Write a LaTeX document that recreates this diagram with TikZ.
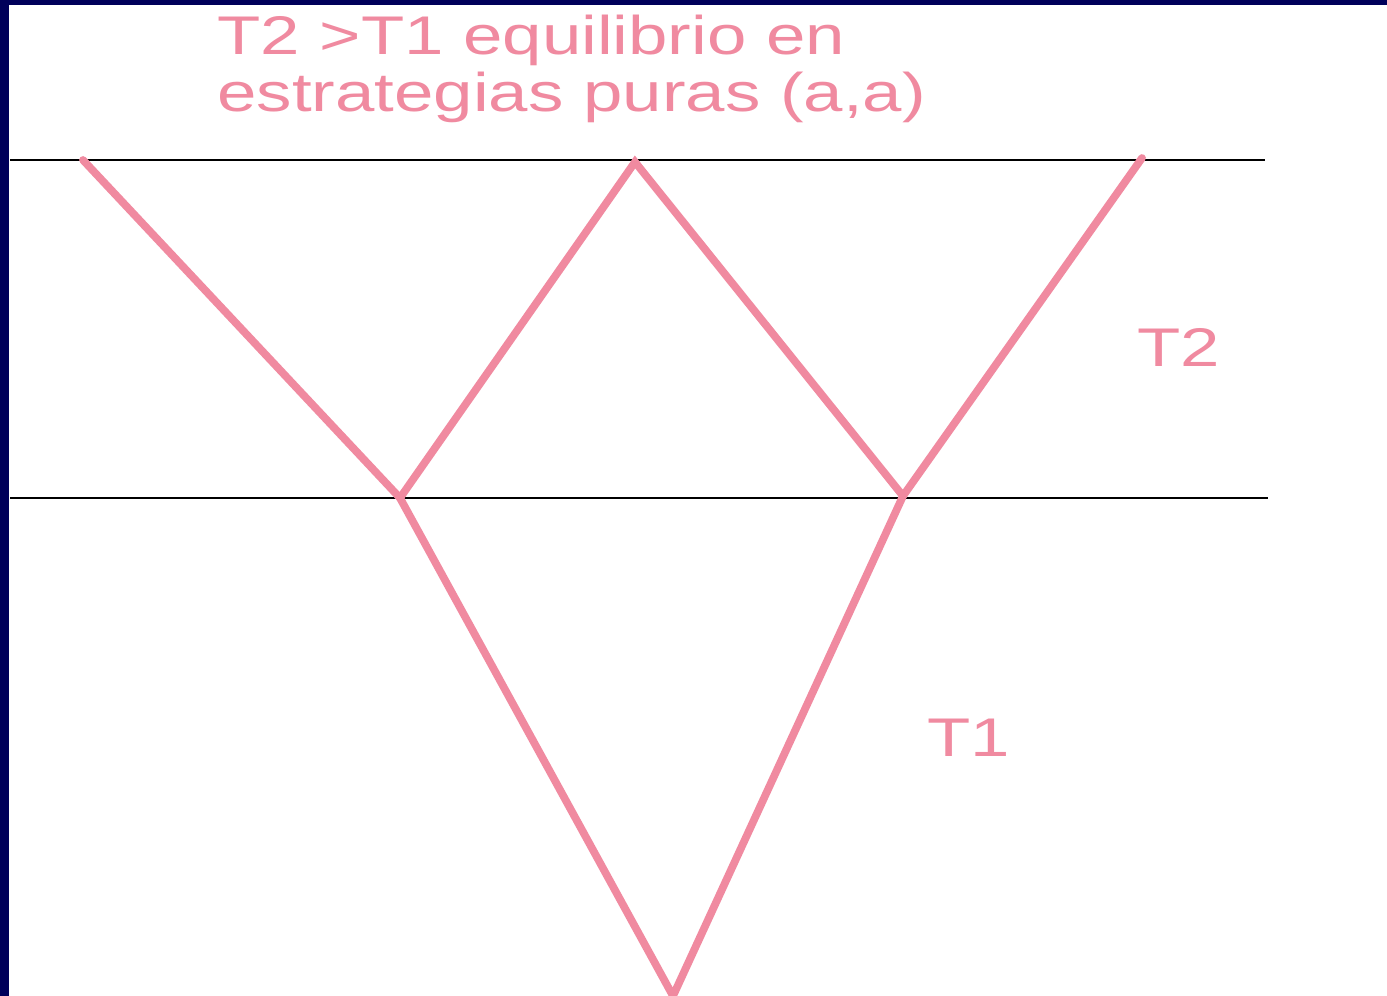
\documentclass[tikz,border=0pt]{standalone}
\usepackage{fontspec}
\setmainfont{Liberation Sans}
\usetikzlibrary{positioning}
\definecolor{navyframe}{RGB}{0,0,90}
\definecolor{rosa}{RGB}{240,138,160}
\begin{document}
\begin{tikzpicture}[
  x=0.02cm, y=-0.02cm,
  eje/.style={line width=1.1pt, black},
  rama/.style={line width=4.4pt, rosa, line cap=round, line join=miter},
  etq/.style={font=\fontsize{31}{33}\selectfont, text=rosa, inner sep=0pt,
    anchor=base west, xscale=1.3}
]
  % frame
  \fill[navyframe] (0,0) rectangle (1387,996);
  \fill[white] (9,5) rectangle (1387,996);
  \useasboundingbox (0,0) rectangle (1387,996);

  % title
  \node[etq] (tit1) at (217,55) {T2 >T1 equilibrio en};
  \node[etq] (tit2) at (217,112) {estrategias puras (a,a)};

  % horizontal levels
  \coordinate (s1) at (10,160);
  \coordinate (s2) at (1265,160);
  \coordinate (i1) at (10,498);
  \coordinate (i2) at (1268,498);
  \draw[eje] (s1) -- (s2);
  \draw[eje] (i1) -- (i2);

  % tree points
  \coordinate (a) at (83,160);
  \coordinate (b) at (400,498);
  \coordinate (c) at (635,162);
  \coordinate (d) at (903,496);
  \coordinate (e) at (1142,158);
  \coordinate (f) at (673,996);

  \draw[rama] (a) -- (b) -- (c) -- (d) -- (e);
  \draw[rama] (b) -- (f) -- (d);

  % labels
  \node[etq] (t2) at (1137,367) {T2};
  \node[etq] (t1) at (927,757) {T1};
\end{tikzpicture}
\end{document}
